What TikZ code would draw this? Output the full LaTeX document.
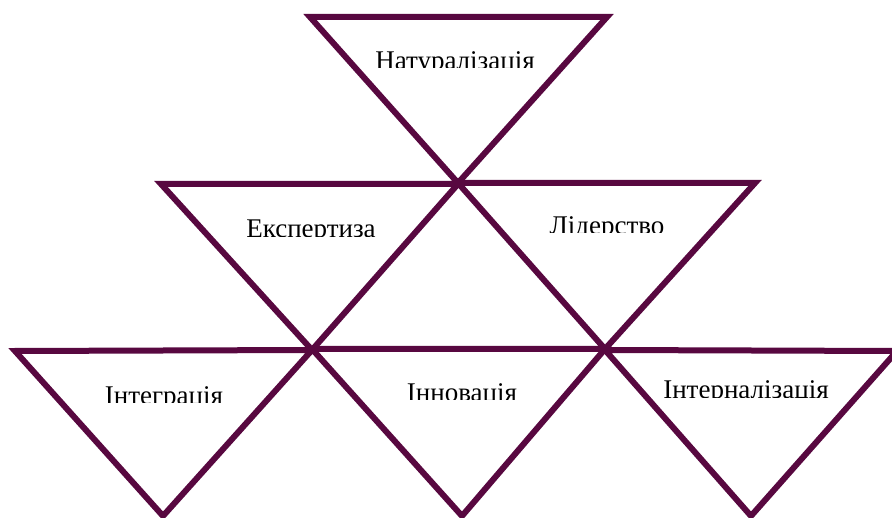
\documentclass[tikz,border=0pt]{standalone}
\usepackage{fontspec}
\setmainfont{Liberation Serif}
\definecolor{tri}{RGB}{88,8,64}
\begin{document}
\begin{tikzpicture}[x=1pt,y=-1pt,
  tribox/.style={draw=tri,line width=6pt},
  lbl/.style={inner sep=0pt,anchor=base,font=\fontsize{27}{31}\selectfont}]
\useasboundingbox (0,0) rectangle (892,518);
% triangles
\draw[tribox] (310,17) -- (607,17) -- (458,183) -- cycle;
\draw[tribox] (161,184) -- (458,184) -- (312,350) -- cycle;
\draw[tribox] (458,183) -- (755,183) -- (605,349) -- cycle;
\draw[tribox] (15,351) -- (312,350) -- (163,516) -- cycle;
\draw[tribox] (312,349) -- (605,349) -- (462,516) -- cycle;
\draw[tribox] (605,350) -- (897,351) -- (751,516) -- cycle;
% labels (clipped at bottom as in the reference)
\begin{scope}\clip (300,30) rectangle (620,68);
\node[lbl] (t1) at (455,69.5) {Натуралізація};\end{scope}
\begin{scope}\clip (160,200) rectangle (460,237);
\node[lbl] (t2) at (311,238) {Експертиза};\end{scope}
\begin{scope}\clip (460,200) rectangle (755,233);
\node[lbl] (t3) at (607,234.5) {Лідерство};\end{scope}
\begin{scope}\clip (15,365) rectangle (310,403);
\node[lbl] (t4) at (164,404.5) {Інтеграція};\end{scope}
\begin{scope}\clip (315,365) rectangle (605,399.5);
\node[lbl] (t5) at (462,401.5) {Інновація};\end{scope}
\begin{scope}\clip (608,365) rectangle (890,397.5);
\node[lbl] (t6) at (746,399) {Інтерналізація};\end{scope}
\end{tikzpicture}
\end{document}
